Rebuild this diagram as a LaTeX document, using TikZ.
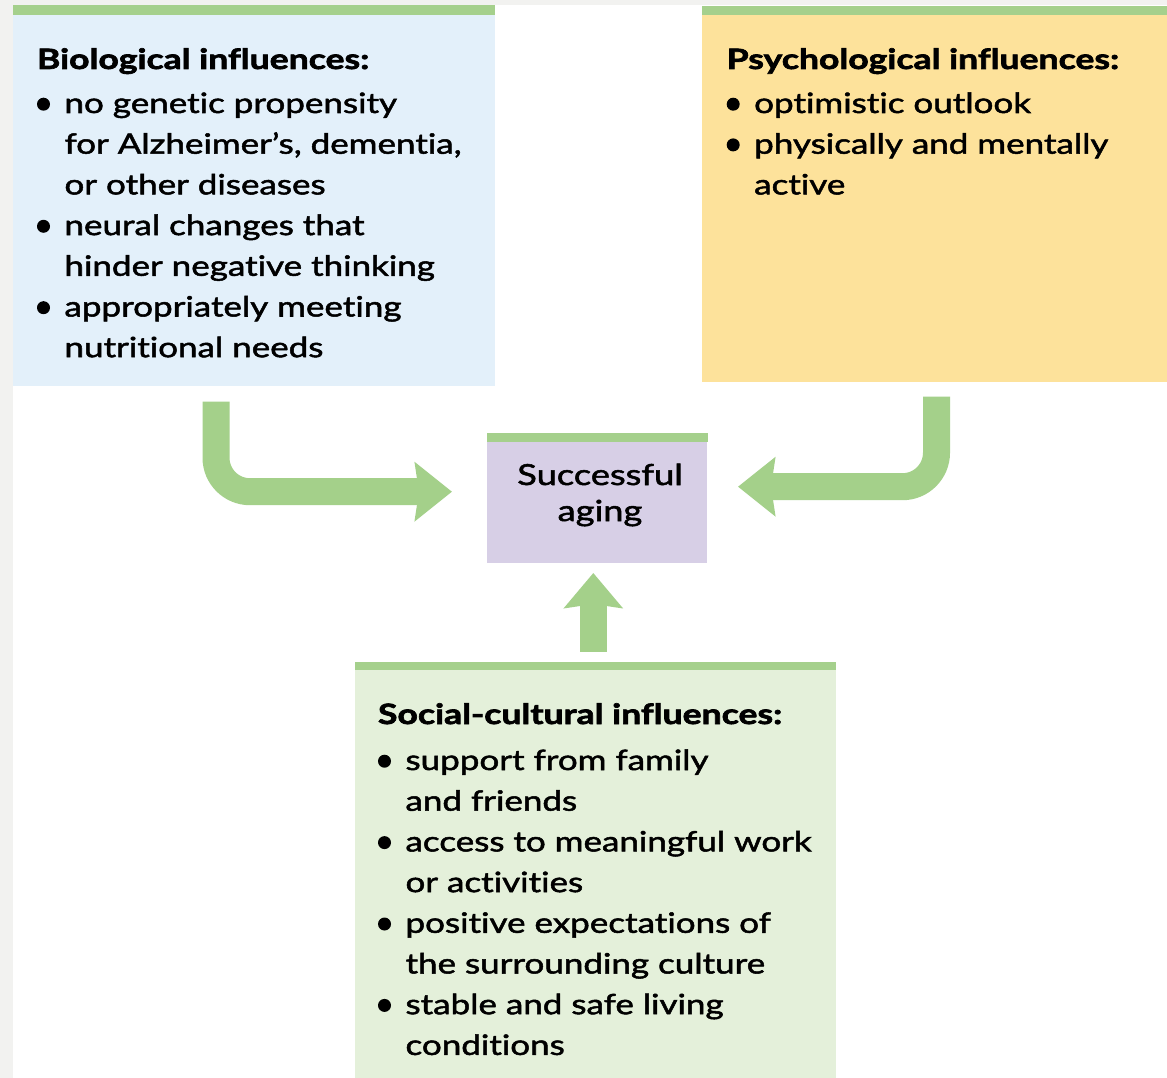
\documentclass[tikz,border=0pt]{standalone}
\usepackage{fontspec}
\setmainfont{Lato}[Ligatures=NoCommon, FakeStretch=1.25, FakeBold=1.8,
  BoldFeatures={FakeStretch=1.27, FakeBold=2.4}]
\usetikzlibrary{arrows.meta,calc}
\definecolor{bggray}{HTML}{F2F2F0}
\definecolor{bargreen}{HTML}{A5D08C}
\definecolor{arrowgreen}{HTML}{A4D08A}
\definecolor{bioblue}{HTML}{E3F0FA}
\definecolor{psyyellow}{HTML}{FDE29B}
\definecolor{succpurple}{HTML}{D7CFE6}
\definecolor{socgreen}{HTML}{E4F0DA}
\newcommand{\bul}{\makebox[27.5pt][l]{\tikz[baseline=0pt]\fill (7pt,8.8pt) circle[radius=6.5pt];}}
\newcommand{\ind}{\hspace*{27.5pt}}
\begin{document}
\begin{tikzpicture}[x=1pt,y=-1pt,
  panel/.style={fill=#1, draw=none, anchor=north west, inner sep=0pt, outer sep=0pt},
  txt/.style={anchor=base west, inner sep=0pt, outer sep=0pt},
  bigarrow/.style={draw=arrowgreen, line width=27pt, rounded corners=34pt,
    -{Stealth[length=37pt,width=58pt,inset=4pt]}}
]
\useasboundingbox (0,0) rectangle (1167,1078);
\fill[bggray] (0,0) rectangle (1167,1078);
\fill[white] (13,5) rectangle (1167,1078);

% panels
\node[panel=bioblue, minimum width=482pt, minimum height=371pt] (bio) at (13,15) {};
\node[panel=psyyellow, minimum width=465pt, minimum height=367pt] (psy) at (702,15) {};
\node[panel=succpurple, minimum width=220pt, minimum height=121pt] (succ) at (487,441.7) {};
\node[panel=socgreen, minimum width=481pt, minimum height=408pt] (soc) at (355,670) {};

% top bars
\fill[bargreen] (bio.north west) rectangle ([yshift=10pt]bio.north east);
\fill[bargreen] (psy.north west) rectangle ([yshift=9pt]psy.north east);
\fill[bargreen] (succ.north west) rectangle ([xshift=1.3pt,yshift=8.4pt]succ.north east);
\fill[bargreen] (soc.north west) rectangle ([yshift=8.3pt]soc.north east);

% texts
\node[txt] (biotext) at (37,69) {\parbox[t]{470pt}{\fontsize{28}{40.7}\selectfont\raggedright
  \textbf{Biological influences:}\\[3.3pt]
  \bul no genetic propensity\\
  \ind for Alzheimer’s, dementia,\\
  \ind or other diseases\\
  \bul neural changes that\\
  \ind hinder negative thinking\\
  \bul appropriately meeting\\
  \ind nutritional needs}};

\node[txt] (psytext) at (726.7,69) {\parbox[t]{440pt}{\fontsize{28}{40.7}\selectfont\raggedright
  \textbf{Psychological influences:}\\[3.3pt]
  \bul optimistic outlook\\
  \bul physically and mentally\\
  \ind active}};

\node[txt] (soctext) at (378,724) {\parbox[t]{460pt}{\fontsize{28}{40.7}\selectfont\raggedright
  \textbf{Social-cultural influences:}\\[5.3pt]
  \bul support from family\\
  \ind and friends\\
  \bul access to meaningful work\\
  \ind or activities\\
  \bul positive expectations of\\
  \ind the surrounding culture\\
  \bul stable and safe living\\
  \ind conditions}};

\node[anchor=base, inner sep=0pt] (succtext) at (600,485) {\parbox[t]{210pt}{\fontsize{29}{36}\selectfont\centering
  Successful\\aging}};

% connector end points
\coordinate (bioout) at (216,401.7);
\coordinate (psyout) at (936.5,396.7);
\coordinate (socout) at (593.3,651.7);
\coordinate (tipL) at ($(succ.west)+(-35,-10.5)$);
\coordinate (tipR) at ($(succ.east)+(31,-15.5)$);
\coordinate (tipB) at ($(succ.south)+(-3.7,10.3)$);

\draw[bigarrow] (bioout) |- (tipL);
\draw[bigarrow] (psyout) |- (tipR);
\draw[bigarrow, line width=26.7pt, -{Stealth[length=35pt,width=58pt,inset=4pt]}] (socout) -- (tipB);
\end{tikzpicture}
\end{document}
